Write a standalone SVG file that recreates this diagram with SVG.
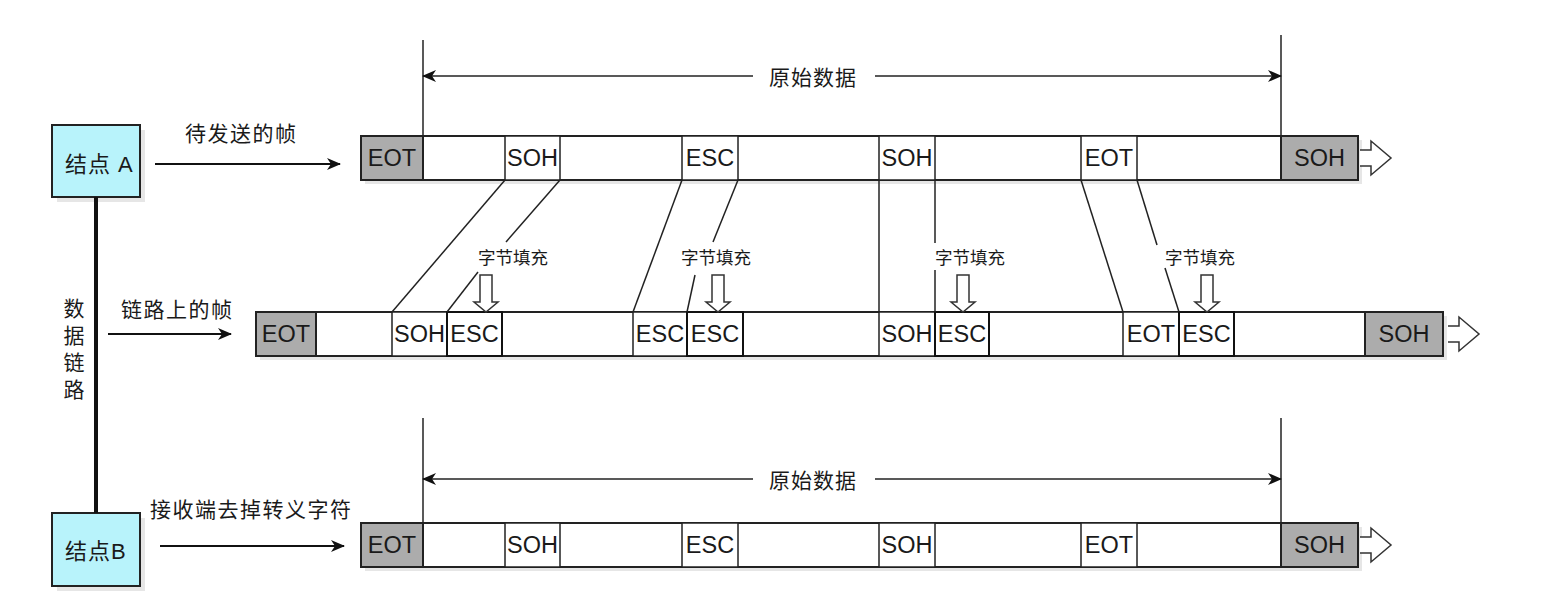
<svg xmlns="http://www.w3.org/2000/svg" width="1549" height="612" viewBox="0 0 1549 612">
<defs>
<style>
.t{font-family:"Liberation Sans","Noto Sans CJK SC",sans-serif;fill:#1a1a1a}
.cn{font-size:21px;letter-spacing:1.5px;dominant-baseline:central}
.sm{font-size:17.5px;text-anchor:middle;dominant-baseline:central}
.cell{font-size:23.5px;text-anchor:middle;dominant-baseline:central}
.frame{fill:#fff;stroke:#222;stroke-width:2}
.gray{fill:#acacac;stroke:#222;stroke-width:2}
.c{fill:#fff;stroke:#222;stroke-width:1.5}
.ins{fill:#fff;stroke:#111;stroke-width:2}
.ln{stroke:#222;stroke-width:1.5;fill:none}
.arr{stroke:#111;stroke-width:2;fill:none}
.node{fill:#b8f3fb;stroke:#222;stroke-width:2}
.shadow{fill:#e6e6e6}
.hollow{fill:#fff;stroke:#333;stroke-width:1.5}
</style>
<marker id="ah" markerWidth="14" markerHeight="12" refX="13" refY="6" orient="auto-start-reverse" markerUnits="userSpaceOnUse"><path d="M0,0 L14,6 L0,12 L4,6 Z" fill="#111"/></marker>
<path id="rarrow" d="M-31,-8 H-20 V-17 L0,0 L-20,17 V8 H-31" class="hollow"/>
<path id="darrow" d="M-6,-37 H6 V-10 H12 L0,0 L-12,-10 H-6 Z" class="hollow"/>
</defs>
<rect width="1549" height="612" fill="#fff"/>

<g id="nodeA">
<rect x="57" y="130" width="88" height="72" class="shadow"/>
<rect x="52" y="125" width="88" height="72" class="node"/>
<text x="65" y="164" class="t" font-size="22" dominant-baseline="central" letter-spacing="1">结点 A</text>
</g>

<g id="nodeB">
<rect x="57" y="518" width="88" height="73" class="shadow"/>
<rect x="52" y="513" width="88" height="73" class="node"/>
<text x="65" y="551" class="t" font-size="22" dominant-baseline="central" letter-spacing="1">结点B</text>
</g>

<g id="link-label">
<text x="74" y="308" class="t" font-size="21" text-anchor="middle" dominant-baseline="central">数</text>
<text x="74" y="335" class="t" font-size="21" text-anchor="middle" dominant-baseline="central">据</text>
<text x="74" y="362" class="t" font-size="21" text-anchor="middle" dominant-baseline="central">链</text>
<text x="74" y="389" class="t" font-size="21" text-anchor="middle" dominant-baseline="central">路</text>
</g>

<g id="frame-top">
<rect x="365" y="140" width="997" height="44" class="shadow"/>
<rect x="361" y="136" width="997" height="44" class="frame"/>
<rect x="361" y="136" width="62" height="44" class="gray"/>
<rect x="505" y="136" width="55" height="44" class="c"/>
<rect x="682" y="136" width="56" height="44" class="c"/>
<rect x="879" y="136" width="56" height="44" class="c"/>
<rect x="1081" y="136" width="56" height="44" class="c"/>
<rect x="1281" y="136" width="77" height="44" class="gray"/>
<text x="392" y="158" class="t cell">EOT</text>
<text x="532.5" y="158" class="t cell">SOH</text>
<text x="710" y="158" class="t cell">ESC</text>
<text x="907" y="158" class="t cell">SOH</text>
<text x="1109" y="158" class="t cell">EOT</text>
<text x="1319.5" y="158" class="t cell">SOH</text>
<use href="#rarrow" x="1391" y="158"/>
</g>

<g id="frame-mid">
<rect x="260" y="316" width="1187" height="44" class="shadow"/>
<rect x="256" y="312" width="1187" height="44" class="frame"/>
<rect x="256" y="312" width="60" height="44" class="gray"/>
<rect x="392" y="312" width="55" height="44" class="c"/>
<rect x="447" y="312" width="55" height="44" class="ins"/>
<rect x="633" y="312" width="54" height="44" class="c"/>
<rect x="687" y="312" width="56" height="44" class="ins"/>
<rect x="879" y="312" width="56" height="44" class="c"/>
<rect x="935" y="312" width="54" height="44" class="ins"/>
<rect x="1123" y="312" width="56" height="44" class="c"/>
<rect x="1179" y="312" width="55" height="44" class="ins"/>
<rect x="1365" y="312" width="78" height="44" class="gray"/>
<text x="286" y="334" class="t cell">EOT</text>
<text x="419.5" y="334" class="t cell">SOH</text>
<text x="474.5" y="334" class="t cell">ESC</text>
<text x="660" y="334" class="t cell">ESC</text>
<text x="715" y="334" class="t cell">ESC</text>
<text x="907" y="334" class="t cell">SOH</text>
<text x="962" y="334" class="t cell">ESC</text>
<text x="1151" y="334" class="t cell">EOT</text>
<text x="1206.5" y="334" class="t cell">ESC</text>
<text x="1404" y="334" class="t cell">SOH</text>
<use href="#rarrow" x="1479" y="334"/>
</g>

<g id="frame-bottom">
<rect x="365" y="527" width="997" height="44" class="shadow"/>
<rect x="361" y="523" width="997" height="44" class="frame"/>
<rect x="361" y="523" width="62" height="44" class="gray"/>
<rect x="505" y="523" width="55" height="44" class="c"/>
<rect x="682" y="523" width="56" height="44" class="c"/>
<rect x="879" y="523" width="56" height="44" class="c"/>
<rect x="1081" y="523" width="56" height="44" class="c"/>
<rect x="1281" y="523" width="77" height="44" class="gray"/>
<text x="392" y="545" class="t cell">EOT</text>
<text x="532.5" y="545" class="t cell">SOH</text>
<text x="710" y="545" class="t cell">ESC</text>
<text x="907" y="545" class="t cell">SOH</text>
<text x="1109" y="545" class="t cell">EOT</text>
<text x="1319.5" y="545" class="t cell">SOH</text>
<use href="#rarrow" x="1391" y="545"/>
</g>

<g id="stuffing-labels">
<text x="513" y="258" class="t sm">字节填充</text>
<text x="716" y="258" class="t sm">字节填充</text>
<text x="970" y="258" class="t sm">字节填充</text>
<text x="1200" y="258" class="t sm">字节填充</text>
<use href="#darrow" x="486" y="312"/>
<use href="#darrow" x="718" y="312"/>
<use href="#darrow" x="963" y="312"/>
<use href="#darrow" x="1207" y="312"/>
</g>

<g id="connectors">
<line x1="96" y1="197" x2="96" y2="513" stroke="#111" stroke-width="4"/>
<line x1="155" y1="164" x2="340" y2="164" class="arr" marker-end="url(#ah)"/>
<line x1="108" y1="334" x2="231" y2="334" class="arr" marker-end="url(#ah)"/>
<line x1="160" y1="546" x2="344" y2="546" class="arr" marker-end="url(#ah)"/>
<line x1="423" y1="40" x2="423" y2="136" class="ln"/>
<line x1="1281" y1="35" x2="1281" y2="136" class="ln"/>
<line x1="423" y1="76" x2="753" y2="76" class="ln" marker-start="url(#ah)"/>
<line x1="875" y1="76" x2="1281" y2="76" class="ln" marker-end="url(#ah)"/>
<line x1="423" y1="418" x2="423" y2="523" class="ln"/>
<line x1="1281" y1="418" x2="1281" y2="523" class="ln"/>
<line x1="423" y1="479" x2="753" y2="479" class="ln" marker-start="url(#ah)"/>
<line x1="875" y1="479" x2="1281" y2="479" class="ln" marker-end="url(#ah)"/>
<line x1="505" y1="180" x2="392" y2="312" class="ln"/>
<line x1="560" y1="180" x2="506" y2="242" class="ln"/>
<line x1="478" y1="272" x2="447" y2="312" class="ln"/>
<line x1="682" y1="180" x2="633" y2="312" class="ln"/>
<line x1="738" y1="180" x2="713" y2="242" class="ln"/>
<line x1="695" y1="275" x2="687" y2="312" class="ln"/>
<line x1="879" y1="180" x2="879" y2="312" class="ln"/>
<line x1="935" y1="180" x2="935" y2="243" class="ln"/>
<line x1="935" y1="270" x2="935" y2="312" class="ln"/>
<line x1="1081" y1="180" x2="1123" y2="312" class="ln"/>
<line x1="1137" y1="180" x2="1157" y2="245" class="ln"/>
<line x1="1165" y1="268" x2="1179" y2="312" class="ln"/>
</g>

<g id="labels">
<text x="185" y="133" class="t cn">待发送的帧</text>
<text x="121" y="309" class="t cn">链路上的帧</text>
<text x="150" y="509" class="t cn">接收端去掉转义字符</text>
<text x="813" y="77" class="t" font-size="21" text-anchor="middle" dominant-baseline="central" letter-spacing="1">原始数据</text>
<text x="813" y="480" class="t" font-size="21" text-anchor="middle" dominant-baseline="central" letter-spacing="1">原始数据</text>
</g>
</svg>
